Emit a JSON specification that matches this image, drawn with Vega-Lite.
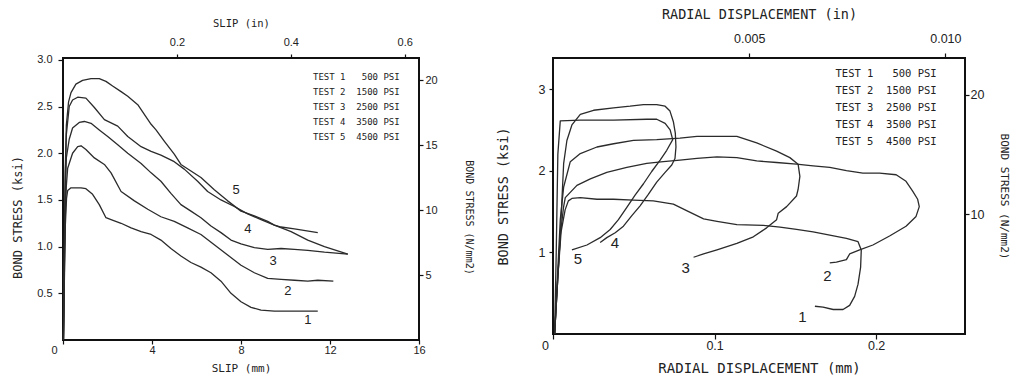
{
  "$schema": "https://vega.github.io/schema/vega-lite/v6.json",
  "background": "white",
  "padding": {"left": 10, "top": 6, "right": 0, "bottom": 0},
  "bounds": "flush",
  "spacing": 134,
  "datasets": {
    "slip": [
      {"test":"1","mm":0.02,"ksi":0},{"test":"1","mm":0.06,"ksi":0.6},{"test":"1","mm":0.1,"ksi":1.2},{"test":"1","mm":0.16,"ksi":1.52},{"test":"1","mm":0.21,"ksi":1.6},{"test":"1","mm":0.36,"ksi":1.63},{"test":"1","mm":0.81,"ksi":1.63},{"test":"1","mm":1.03,"ksi":1.62},{"test":"1","mm":1.33,"ksi":1.56},{"test":"1","mm":1.63,"ksi":1.45},{"test":"1","mm":1.93,"ksi":1.31},{"test":"1","mm":2.16,"ksi":1.29},{"test":"1","mm":2.61,"ksi":1.25},{"test":"1","mm":3.06,"ksi":1.2},{"test":"1","mm":3.51,"ksi":1.16},{"test":"1","mm":3.96,"ksi":1.13},{"test":"1","mm":4.4,"ksi":1.07},{"test":"1","mm":4.85,"ksi":0.98},{"test":"1","mm":5.3,"ksi":0.9},{"test":"1","mm":5.75,"ksi":0.83},{"test":"1","mm":6.2,"ksi":0.78},{"test":"1","mm":6.65,"ksi":0.72},{"test":"1","mm":7.1,"ksi":0.63},{"test":"1","mm":7.55,"ksi":0.5},{"test":"1","mm":8.0,"ksi":0.41},{"test":"1","mm":8.45,"ksi":0.35},{"test":"1","mm":8.9,"ksi":0.32},{"test":"1","mm":9.5,"ksi":0.31},{"test":"1","mm":10.7,"ksi":0.31},{"test":"1","mm":11.45,"ksi":0.31},
      {"test":"2","mm":0.02,"ksi":0},{"test":"2","mm":0.06,"ksi":0.7},{"test":"2","mm":0.1,"ksi":1.3},{"test":"2","mm":0.15,"ksi":1.65},{"test":"2","mm":0.21,"ksi":1.84},{"test":"2","mm":0.43,"ksi":2.0},{"test":"2","mm":0.66,"ksi":2.07},{"test":"2","mm":0.81,"ksi":2.08},{"test":"2","mm":1.03,"ksi":2.04},{"test":"2","mm":1.41,"ksi":1.95},{"test":"2","mm":1.86,"ksi":1.88},{"test":"2","mm":2.16,"ksi":1.79},{"test":"2","mm":2.61,"ksi":1.59},{"test":"2","mm":3.21,"ksi":1.49},{"test":"2","mm":3.81,"ksi":1.4},{"test":"2","mm":4.4,"ksi":1.32},{"test":"2","mm":5.0,"ksi":1.27},{"test":"2","mm":5.6,"ksi":1.2},{"test":"2","mm":6.2,"ksi":1.13},{"test":"2","mm":6.8,"ksi":1.02},{"test":"2","mm":7.4,"ksi":0.91},{"test":"2","mm":8.0,"ksi":0.8},{"test":"2","mm":8.6,"ksi":0.72},{"test":"2","mm":9.2,"ksi":0.66},{"test":"2","mm":9.8,"ksi":0.65},{"test":"2","mm":10.4,"ksi":0.64},{"test":"2","mm":11.0,"ksi":0.63},{"test":"2","mm":11.45,"ksi":0.64},{"test":"2","mm":12.15,"ksi":0.63},
      {"test":"3","mm":0.02,"ksi":0},{"test":"3","mm":0.06,"ksi":0.8},{"test":"3","mm":0.1,"ksi":1.5},{"test":"3","mm":0.15,"ksi":1.95},{"test":"3","mm":0.28,"ksi":2.15},{"test":"3","mm":0.43,"ksi":2.27},{"test":"3","mm":0.73,"ksi":2.33},{"test":"3","mm":0.96,"ksi":2.34},{"test":"3","mm":1.26,"ksi":2.32},{"test":"3","mm":1.63,"ksi":2.25},{"test":"3","mm":2.01,"ksi":2.18},{"test":"3","mm":2.46,"ksi":2.09},{"test":"3","mm":2.91,"ksi":2.0},{"test":"3","mm":3.51,"ksi":1.89},{"test":"3","mm":3.96,"ksi":1.79},{"test":"3","mm":4.4,"ksi":1.7},{"test":"3","mm":4.85,"ksi":1.57},{"test":"3","mm":5.3,"ksi":1.45},{"test":"3","mm":5.75,"ksi":1.38},{"test":"3","mm":6.2,"ksi":1.31},{"test":"3","mm":6.65,"ksi":1.22},{"test":"3","mm":7.1,"ksi":1.15},{"test":"3","mm":7.55,"ksi":1.07},{"test":"3","mm":8.0,"ksi":1.03},{"test":"3","mm":8.6,"ksi":0.99},{"test":"3","mm":9.2,"ksi":0.97},{"test":"3","mm":9.8,"ksi":0.98},{"test":"3","mm":10.4,"ksi":0.97},{"test":"3","mm":11.0,"ksi":0.96},{"test":"3","mm":11.75,"ksi":0.94},{"test":"3","mm":12.8,"ksi":0.92},
      {"test":"4","mm":0.02,"ksi":0},{"test":"4","mm":0.06,"ksi":0.9},{"test":"4","mm":0.1,"ksi":1.7},{"test":"4","mm":0.15,"ksi":2.2},{"test":"4","mm":0.28,"ksi":2.5},{"test":"4","mm":0.43,"ksi":2.57},{"test":"4","mm":0.66,"ksi":2.6},{"test":"4","mm":1.03,"ksi":2.59},{"test":"4","mm":1.41,"ksi":2.49},{"test":"4","mm":1.86,"ksi":2.36},{"test":"4","mm":2.46,"ksi":2.29},{"test":"4","mm":2.91,"ksi":2.18},{"test":"4","mm":3.51,"ksi":2.07},{"test":"4","mm":3.96,"ksi":2.02},{"test":"4","mm":4.4,"ksi":1.98},{"test":"4","mm":5.0,"ksi":1.91},{"test":"4","mm":5.45,"ksi":1.83},{"test":"4","mm":6.05,"ksi":1.7},{"test":"4","mm":6.5,"ksi":1.59},{"test":"4","mm":7.1,"ksi":1.5},{"test":"4","mm":7.7,"ksi":1.43},{"test":"4","mm":8.3,"ksi":1.35},{"test":"4","mm":8.9,"ksi":1.29},{"test":"4","mm":9.5,"ksi":1.23},{"test":"4","mm":9.8,"ksi":1.21},{"test":"4","mm":10.4,"ksi":1.19},{"test":"4","mm":11.45,"ksi":1.15},
      {"test":"5","mm":0.02,"ksi":0},{"test":"5","mm":0.06,"ksi":1.0},{"test":"5","mm":0.1,"ksi":1.8},{"test":"5","mm":0.15,"ksi":2.3},{"test":"5","mm":0.25,"ksi":2.55},{"test":"5","mm":0.36,"ksi":2.65},{"test":"5","mm":0.58,"ksi":2.74},{"test":"5","mm":0.88,"ksi":2.78},{"test":"5","mm":1.26,"ksi":2.8},{"test":"5","mm":1.63,"ksi":2.8},{"test":"5","mm":1.93,"ksi":2.77},{"test":"5","mm":2.23,"ksi":2.72},{"test":"5","mm":2.61,"ksi":2.66},{"test":"5","mm":2.91,"ksi":2.61},{"test":"5","mm":3.36,"ksi":2.52},{"test":"5","mm":3.96,"ksi":2.31},{"test":"5","mm":4.18,"ksi":2.25},{"test":"5","mm":4.55,"ksi":2.13},{"test":"5","mm":5.0,"ksi":1.99},{"test":"5","mm":5.3,"ksi":1.88},{"test":"5","mm":5.75,"ksi":1.81},{"test":"5","mm":6.2,"ksi":1.74},{"test":"5","mm":6.8,"ksi":1.61},{"test":"5","mm":7.4,"ksi":1.49},{"test":"5","mm":8.0,"ksi":1.38},{"test":"5","mm":8.6,"ksi":1.33},{"test":"5","mm":9.2,"ksi":1.27},{"test":"5","mm":9.5,"ksi":1.23},{"test":"5","mm":10.25,"ksi":1.16},{"test":"5","mm":11.0,"ksi":1.07},{"test":"5","mm":11.75,"ksi":1.0},{"test":"5","mm":12.8,"ksi":0.92}
    ],
    "slipLabels": [
      {"test":"5","mm":7.78,"ksi":1.61},{"test":"4","mm":8.31,"ksi":1.19},{"test":"3","mm":9.44,"ksi":0.85},{"test":"2","mm":10.11,"ksi":0.53},{"test":"1","mm":11.01,"ksi":0.21}
    ],
    "radial": [
      {"test":"1","mm":0.001,"ksi":0},{"test":"1","mm":0.003,"ksi":0.7},{"test":"1","mm":0.005,"ksi":1.25},{"test":"1","mm":0.0075,"ksi":1.52},{"test":"1","mm":0.0095,"ksi":1.63},{"test":"1","mm":0.0117,"ksi":1.66},{"test":"1","mm":0.0169,"ksi":1.67},{"test":"1","mm":0.0272,"ksi":1.65},{"test":"1","mm":0.0375,"ksi":1.65},{"test":"1","mm":0.0498,"ksi":1.64},{"test":"1","mm":0.0621,"ksi":1.63},{"test":"1","mm":0.0745,"ksi":1.59},{"test":"1","mm":0.0827,"ksi":1.51},{"test":"1","mm":0.0932,"ksi":1.41},{"test":"1","mm":0.1015,"ksi":1.38},{"test":"1","mm":0.1138,"ksi":1.34},{"test":"1","mm":0.1302,"ksi":1.33},{"test":"1","mm":0.1405,"ksi":1.31},{"test":"1","mm":0.1507,"ksi":1.28},{"test":"1","mm":0.161,"ksi":1.25},{"test":"1","mm":0.1713,"ksi":1.21},{"test":"1","mm":0.1816,"ksi":1.17},{"test":"1","mm":0.1888,"ksi":1.13},{"test":"1","mm":0.1908,"ksi":1.03},{"test":"1","mm":0.1904,"ksi":0.82},{"test":"1","mm":0.1888,"ksi":0.61},{"test":"1","mm":0.1867,"ksi":0.46},{"test":"1","mm":0.1836,"ksi":0.35},{"test":"1","mm":0.1795,"ksi":0.3},{"test":"1","mm":0.1734,"ksi":0.3},{"test":"1","mm":0.1672,"ksi":0.33},{"test":"1","mm":0.1621,"ksi":0.34},
      {"test":"2","mm":0.001,"ksi":0},{"test":"2","mm":0.003,"ksi":0.7},{"test":"2","mm":0.0045,"ksi":1.2},{"test":"2","mm":0.0065,"ksi":1.55},{"test":"2","mm":0.0076,"ksi":1.67},{"test":"2","mm":0.0148,"ksi":1.82},{"test":"2","mm":0.0231,"ksi":1.9},{"test":"2","mm":0.0333,"ksi":1.98},{"test":"2","mm":0.0457,"ksi":2.04},{"test":"2","mm":0.058,"ksi":2.09},{"test":"2","mm":0.0683,"ksi":2.11},{"test":"2","mm":0.0786,"ksi":2.13},{"test":"2","mm":0.0891,"ksi":2.15},{"test":"2","mm":0.1015,"ksi":2.17},{"test":"2","mm":0.1138,"ksi":2.16},{"test":"2","mm":0.1261,"ksi":2.12},{"test":"2","mm":0.1384,"ksi":2.1},{"test":"2","mm":0.1507,"ksi":2.08},{"test":"2","mm":0.161,"ksi":2.06},{"test":"2","mm":0.1713,"ksi":2.04},{"test":"2","mm":0.1816,"ksi":2.0},{"test":"2","mm":0.1918,"ksi":1.97},{"test":"2","mm":0.2021,"ksi":1.97},{"test":"2","mm":0.2124,"ksi":1.95},{"test":"2","mm":0.2185,"ksi":1.87},{"test":"2","mm":0.2226,"ksi":1.75},{"test":"2","mm":0.2257,"ksi":1.65},{"test":"2","mm":0.2267,"ksi":1.56},{"test":"2","mm":0.2247,"ksi":1.44},{"test":"2","mm":0.2185,"ksi":1.32},{"test":"2","mm":0.2083,"ksi":1.2},{"test":"2","mm":0.198,"ksi":1.09},{"test":"2","mm":0.1898,"ksi":1.03},{"test":"2","mm":0.1836,"ksi":0.98},{"test":"2","mm":0.1816,"ksi":0.91},{"test":"2","mm":0.1754,"ksi":0.88},{"test":"2","mm":0.1713,"ksi":0.87},
      {"test":"3","mm":0.001,"ksi":0},{"test":"3","mm":0.003,"ksi":0.8},{"test":"3","mm":0.0045,"ksi":1.4},{"test":"3","mm":0.0066,"ksi":1.8},{"test":"3","mm":0.0107,"ksi":2.11},{"test":"3","mm":0.0169,"ksi":2.21},{"test":"3","mm":0.0272,"ksi":2.29},{"test":"3","mm":0.0375,"ksi":2.33},{"test":"3","mm":0.0498,"ksi":2.37},{"test":"3","mm":0.0642,"ksi":2.38},{"test":"3","mm":0.0786,"ksi":2.4},{"test":"3","mm":0.0891,"ksi":2.42},{"test":"3","mm":0.1015,"ksi":2.42},{"test":"3","mm":0.1138,"ksi":2.42},{"test":"3","mm":0.1261,"ksi":2.34},{"test":"3","mm":0.1384,"ksi":2.24},{"test":"3","mm":0.1466,"ksi":2.16},{"test":"3","mm":0.1517,"ksi":2.08},{"test":"3","mm":0.1528,"ksi":1.93},{"test":"3","mm":0.1517,"ksi":1.77},{"test":"3","mm":0.1507,"ksi":1.69},{"test":"3","mm":0.1446,"ksi":1.56},{"test":"3","mm":0.1394,"ksi":1.48},{"test":"3","mm":0.1384,"ksi":1.4},{"test":"3","mm":0.1322,"ksi":1.3},{"test":"3","mm":0.124,"ksi":1.19},{"test":"3","mm":0.1138,"ksi":1.11},{"test":"3","mm":0.1015,"ksi":1.03},{"test":"3","mm":0.0932,"ksi":0.98},{"test":"3","mm":0.087,"ksi":0.94},
      {"test":"4","mm":0.001,"ksi":0},{"test":"4","mm":0.002,"ksi":1.0},{"test":"4","mm":0.003,"ksi":2.2},{"test":"4","mm":0.0045,"ksi":2.61},{"test":"4","mm":0.0169,"ksi":2.62},{"test":"4","mm":0.0375,"ksi":2.62},{"test":"4","mm":0.058,"ksi":2.63},{"test":"4","mm":0.0642,"ksi":2.63},{"test":"4","mm":0.0694,"ksi":2.58},{"test":"4","mm":0.0725,"ksi":2.5},{"test":"4","mm":0.0741,"ksi":2.38},{"test":"4","mm":0.0704,"ksi":2.25},{"test":"4","mm":0.0663,"ksi":2.13},{"test":"4","mm":0.0611,"ksi":1.99},{"test":"4","mm":0.056,"ksi":1.84},{"test":"4","mm":0.0508,"ksi":1.7},{"test":"4","mm":0.0457,"ksi":1.55},{"test":"4","mm":0.0405,"ksi":1.4},{"test":"4","mm":0.0354,"ksi":1.28},{"test":"4","mm":0.0292,"ksi":1.18},{"test":"4","mm":0.021,"ksi":1.09},{"test":"4","mm":0.0117,"ksi":1.03},
      {"test":"5","mm":0.001,"ksi":0},{"test":"5","mm":0.003,"ksi":0.7},{"test":"5","mm":0.0045,"ksi":1.2},{"test":"5","mm":0.0056,"ksi":1.67},{"test":"5","mm":0.0066,"ksi":2.09},{"test":"5","mm":0.0086,"ksi":2.37},{"test":"5","mm":0.0117,"ksi":2.56},{"test":"5","mm":0.0169,"ksi":2.69},{"test":"5","mm":0.0251,"ksi":2.74},{"test":"5","mm":0.0375,"ksi":2.77},{"test":"5","mm":0.0477,"ksi":2.79},{"test":"5","mm":0.056,"ksi":2.81},{"test":"5","mm":0.0642,"ksi":2.81},{"test":"5","mm":0.0694,"ksi":2.79},{"test":"5","mm":0.0724,"ksi":2.73},{"test":"5","mm":0.0745,"ksi":2.6},{"test":"5","mm":0.0757,"ksi":2.46},{"test":"5","mm":0.0761,"ksi":2.29},{"test":"5","mm":0.0755,"ksi":2.15},{"test":"5","mm":0.0735,"ksi":2.07},{"test":"5","mm":0.0694,"ksi":1.98},{"test":"5","mm":0.0642,"ksi":1.86},{"test":"5","mm":0.059,"ksi":1.71},{"test":"5","mm":0.0539,"ksi":1.57},{"test":"5","mm":0.0488,"ksi":1.45},{"test":"5","mm":0.0436,"ksi":1.32},{"test":"5","mm":0.0385,"ksi":1.24},{"test":"5","mm":0.0333,"ksi":1.18},{"test":"5","mm":0.0292,"ksi":1.12}
    ],
    "radialLabels": [
      {"test":"5","mm":0.0154,"ksi":0.92},{"test":"4","mm":0.0383,"ksi":1.12},{"test":"3","mm":0.0821,"ksi":0.81},{"test":"2","mm":0.1698,"ksi":0.71},{"test":"1","mm":0.1543,"ksi":0.21}
    ],
    "units": [{"inch": 0, "nmm": 0}]
  },
  "resolve": {"scale": {"color": "independent"}, "legend": {"color": "independent"}},
  "hconcat": [
    {
      "width": 356,
      "height": 282,
      "resolve": {"scale": {"x": "independent", "y": "independent"}},
      "layer": [
        {
          "layer": [
            {
              "data": {"name": "slip"},
              "mark": {"type": "line", "strokeWidth": 1.3, "strokeJoin": "round"},
              "encoding": {
                "x": {"field": "mm", "type": "quantitative", "scale": {"domain": [0, 16], "nice": false, "zero": false},
                  "axis": {"title": "SLIP (mm)", "values": [0, 4, 8, 12, 16], "format": "d", "labelFontSize": 11, "tickSize": 4, "labelPadding": 0, "titleFontSize": 11, "titlePadding": 7,
                    "labelOffset": {"condition": {"test": "datum.value == 0", "value": -9}, "value": 0}}},
                "y": {"field": "ksi", "type": "quantitative", "scale": {"domain": [0, 3.02], "nice": false},
                  "axis": {"title": "BOND STRESS (ksi)", "values": [0.5, 1, 1.5, 2, 2.5, 3], "format": ".1f", "labelFontSize": 11, "labelPadding": 6, "titleFontSize": 12, "titlePadding": 12, "titleY": 159}},
                "color": {"field": "test", "type": "nominal", "scale": {"range": ["#2b2b2b"]},
                  "legend": {"title": null, "orient": "none", "legendX": 241, "legendY": 14, "labelFont": "DejaVu Sans Mono", "labelFontSize": 9, "labelColor": "#222", "symbolSize": 0, "symbolOpacity": 0, "symbolStrokeWidth": 0, "labelOffset": 0, "rowPadding": 5, "padding": 0,
                    "labelExpr": "['', 'TEST 1\u00a0\u00a0\u00a0500 PSI', 'TEST 2\u00a0\u00a01500 PSI', 'TEST 3\u00a0\u00a02500 PSI', 'TEST 4\u00a0\u00a03500 PSI', 'TEST 5\u00a0\u00a04500 PSI'][toNumber(datum.label)]"}}
              }
            },
            {
              "data": {"name": "slipLabels"},
              "mark": {"type": "text", "font": "Liberation Sans", "fontSize": 13, "color": "#222", "align": "center", "baseline": "middle"},
              "encoding": {
                "x": {"field": "mm", "type": "quantitative"},
                "y": {"field": "ksi", "type": "quantitative"},
                "text": {"field": "test"}
              }
            }
          ]
        },
        {
          "data": {"name": "units"},
          "mark": {"type": "point", "opacity": 0},
          "encoding": {
            "x": {"field": "inch", "type": "quantitative", "scale": {"domain": [0, 0.625], "nice": false},
              "axis": {"orient": "top", "title": "SLIP (in)", "values": [0.2, 0.4, 0.6], "format": ".1f", "labelFontSize": 11, "labelPadding": 7, "tickSize": 4, "titleFontSize": 10.5, "titlePadding": 8}},
            "y": {"field": "nmm", "type": "quantitative", "scale": {"domain": [0, 21.7], "nice": false},
              "axis": {"orient": "right", "title": "BOND STRESS (N/mm2)", "values": [5, 10, 15, 20], "format": "d", "labelFontSize": 11, "tickSize": 4, "labelPadding": 2, "titleFontSize": 10, "titlePadding": 26, "titleY": 159}}
          }
        }
      ]
    },
    {
      "width": 412,
      "height": 276,
      "resolve": {"scale": {"x": "independent", "y": "independent"}},
      "layer": [
        {
          "layer": [
            {
              "data": {"name": "radial"},
              "mark": {"type": "line", "strokeWidth": 1.3, "strokeJoin": "round"},
              "encoding": {
                "x": {"field": "mm", "type": "quantitative", "scale": {"domain": [0, 0.255], "nice": false, "zero": false},
                  "axis": {"title": "RADIAL DISPLACEMENT (mm)", "values": [0, 0.1, 0.2], "format": "~g", "labelFontSize": 12.5, "labelPadding": 0, "titleFontSize": 14, "titlePadding": 10,
                    "labelOffset": {"condition": {"test": "datum.value == 0", "value": -8}, "value": 0}}},
                "y": {"field": "ksi", "type": "quantitative", "scale": {"domain": [0, 3.38], "nice": false},
                  "axis": {"title": "BOND STRESS (ksi)", "values": [1, 2, 3], "format": "d", "labelFontSize": 12.5, "tickSize": 4, "labelPadding": 4, "titleFontSize": 13.5, "titlePadding": 28}},
                "order": {"value": null},
                "color": {"field": "test", "type": "nominal", "scale": {"range": ["#2b2b2b"]},
                  "legend": {"title": null, "orient": "none", "legendX": 272, "legendY": 11, "labelFont": "DejaVu Sans Mono", "labelFontSize": 10.5, "labelColor": "#222", "symbolSize": 0, "symbolOpacity": 0, "symbolStrokeWidth": 0, "labelOffset": 0, "rowPadding": 6, "padding": 0,
                    "labelExpr": "['', 'TEST 1\u00a0\u00a0\u00a0500 PSI', 'TEST 2\u00a0\u00a01500 PSI', 'TEST 3\u00a0\u00a02500 PSI', 'TEST 4\u00a0\u00a03500 PSI', 'TEST 5\u00a0\u00a04500 PSI'][toNumber(datum.label)]"}}
              }
            },
            {
              "data": {"name": "radialLabels"},
              "mark": {"type": "text", "font": "Liberation Sans", "fontSize": 15, "color": "#222", "align": "center", "baseline": "middle"},
              "encoding": {
                "x": {"field": "mm", "type": "quantitative"},
                "y": {"field": "ksi", "type": "quantitative"},
                "text": {"field": "test"}
              }
            }
          ]
        },
        {
          "data": {"name": "units"},
          "mark": {"type": "point", "opacity": 0},
          "encoding": {
            "x": {"field": "inch", "type": "quantitative", "scale": {"domain": [0, 0.0105], "nice": false},
              "axis": {"orient": "top", "title": "RADIAL DISPLACEMENT (in)", "values": [0.005, 0.01], "format": ".3f", "labelFontSize": 12.5, "labelPadding": 8, "tickSize": 5, "titleFontSize": 13.5, "titlePadding": 11}},
            "y": {"field": "nmm", "type": "quantitative", "scale": {"domain": [0, 23.06], "nice": false},
              "axis": {"orient": "right", "title": "BOND STRESS (N/mm2)", "values": [10, 20], "format": "d", "labelFontSize": 12.5, "tickSize": 4, "labelPadding": 1, "titleFontSize": 11, "titlePadding": 15}}
          }
        }
      ]
    }
  ],
  "config": {
    "view": {"stroke": "#111", "strokeWidth": 2},
    "axis": {"domain": false, "grid": false, "tickColor": "#111", "tickWidth": 1.2, "tickSize": 5, "labelFont": "Liberation Sans", "labelColor": "#222", "labelFlush": false, "titleFont": "DejaVu Sans Mono", "titleFontWeight": "normal", "titleColor": "#222"}
  }
}
